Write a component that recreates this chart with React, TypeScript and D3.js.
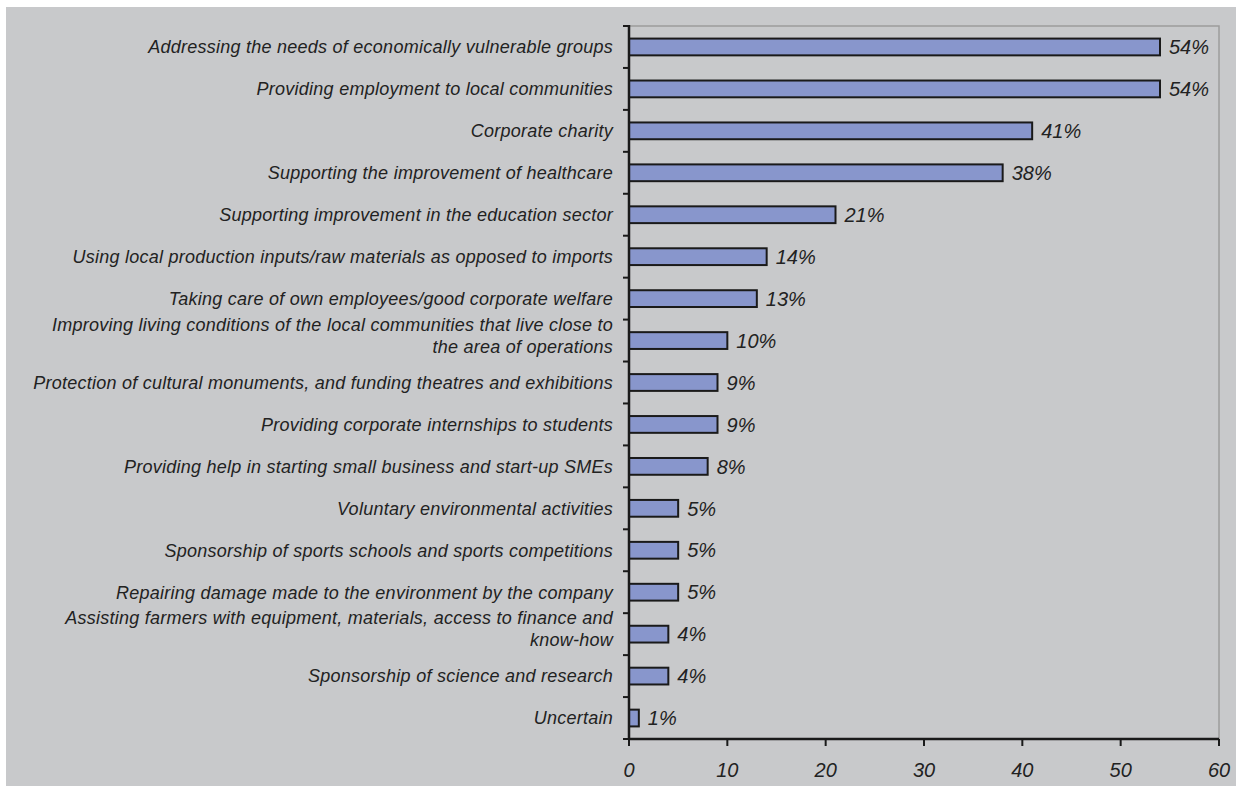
import React from "react";
import * as d3 from "d3";

const categories: string[] = [
  "Addressing the needs of economically vulnerable groups",
  "Providing employment to local communities",
  "Corporate charity",
  "Supporting the improvement of healthcare",
  "Supporting improvement in the education sector",
  "Using local production inputs/raw materials as opposed to imports",
  "Taking care of own employees/good corporate welfare",
  "Improving living conditions of the local communities that live close to\nthe area of operations",
  "Protection of cultural monuments, and funding theatres and exhibitions",
  "Providing corporate internships to  students",
  "Providing help in starting small business and start-up SMEs",
  "Voluntary environmental activities",
  "Sponsorship of sports schools and sports competitions",
  "Repairing damage made to the environment by the company",
  "Assisting farmers with equipment, materials, access to finance and\nknow-how",
  "Sponsorship of science and research",
  "Uncertain",
];
const values: number[] = [54, 54, 41, 38, 21, 14, 13, 10, 9, 9, 8, 5, 5, 5, 4, 4, 1];
const xTicks: number[] = [0, 10, 20, 30, 40, 50, 60];

const W = 1236;
const H = 787;
const plot = { left: 629, right: 1219, top: 26, bottom: 739 };

export default function App() {
  const x = d3.scaleLinear().domain([0, 60]).range([plot.left, plot.right]);
  const y = d3
    .scaleBand<number>()
    .domain(d3.range(categories.length))
    .range([plot.top, plot.bottom])
    .paddingInner(0.6)
    .paddingOuter(0.3);
  const boundaries = d3
    .range(categories.length + 1)
    .map((i) => plot.top + i * ((plot.bottom - plot.top) / categories.length));
  const font = "'Liberation Sans', Arial, sans-serif";
  return (
    <svg
      width={W}
      height={H}
      style={{ position: "absolute", left: 0, top: 0, display: "block" }}
    >
      <rect x={0} y={0} width={W} height={H} fill="#ffffff" />
      <rect x={6} y={7} width={W - 6} height={H - 8} fill="#c8c9cb" />
      {/* plot border */}
      <rect
        x={plot.left}
        y={plot.top}
        width={plot.right - plot.left}
        height={plot.bottom - plot.top}
        fill="none"
        stroke="#9c9c9c"
        strokeWidth={1.5}
      />
      {/* bars */}
      {values.map((v, i) => (
        <rect
          key={"b" + i}
          x={x(0)}
          y={y(i)!}
          width={x(v) - x(0)}
          height={y.bandwidth()}
          fill="#8896cc"
          stroke="#1a1a1a"
          strokeWidth={2}
        />
      ))}
      {/* value labels */}
      {values.map((v, i) => (
        <text
          key={"v" + i}
          x={x(v) + 9}
          y={y(i)! + y.bandwidth() / 2}
          dy="0.36em"
          fontFamily={font}
          fontStyle="italic"
          fontSize={20}
          fill="#222"
        >
          {v}%
        </text>
      ))}
      {/* category labels */}
      {categories.map((c, i) => {
        const lines = c.split("\n");
        const cy = y(i)! + y.bandwidth() / 2;
        const offsets = lines.length === 1 ? [0] : [-16, 6];
        return (
          <text
            key={"c" + i}
            textAnchor="end"
            fontFamily={font}
            fontStyle="italic"
            fontSize={18}
            letterSpacing={0.25}
            fill="#222"
          >
            {lines.map((l, j) => (
              <tspan key={j} x={613} y={cy + offsets[j]} dy="0.35em">
                {l}
              </tspan>
            ))}
          </text>
        );
      })}
      {/* y axis */}
      <line x1={plot.left} x2={plot.left} y1={plot.top - 1} y2={plot.bottom + 1} stroke="#1a1a1a" strokeWidth={2.5} />
      {boundaries.map((b, i) => (
        <line key={"yt" + i} x1={plot.left - 6} x2={plot.left} y1={b} y2={b} stroke="#1a1a1a" strokeWidth={2} />
      ))}
      {/* x axis */}
      <line x1={plot.left} x2={plot.right} y1={plot.bottom} y2={plot.bottom} stroke="#1a1a1a" strokeWidth={2.5} />
      {xTicks.map((t) => (
        <g key={"xt" + t}>
          <line x1={x(t)} x2={x(t)} y1={plot.bottom} y2={plot.bottom + 7} stroke="#1a1a1a" strokeWidth={2} />
          <text
            x={x(t)}
            y={770}
            dy="0.36em"
            textAnchor="middle"
            fontFamily={font}
            fontStyle="italic"
            fontSize={20}
            fill="#222"
          >
            {t}
          </text>
        </g>
      ))}
    </svg>
  );
}
